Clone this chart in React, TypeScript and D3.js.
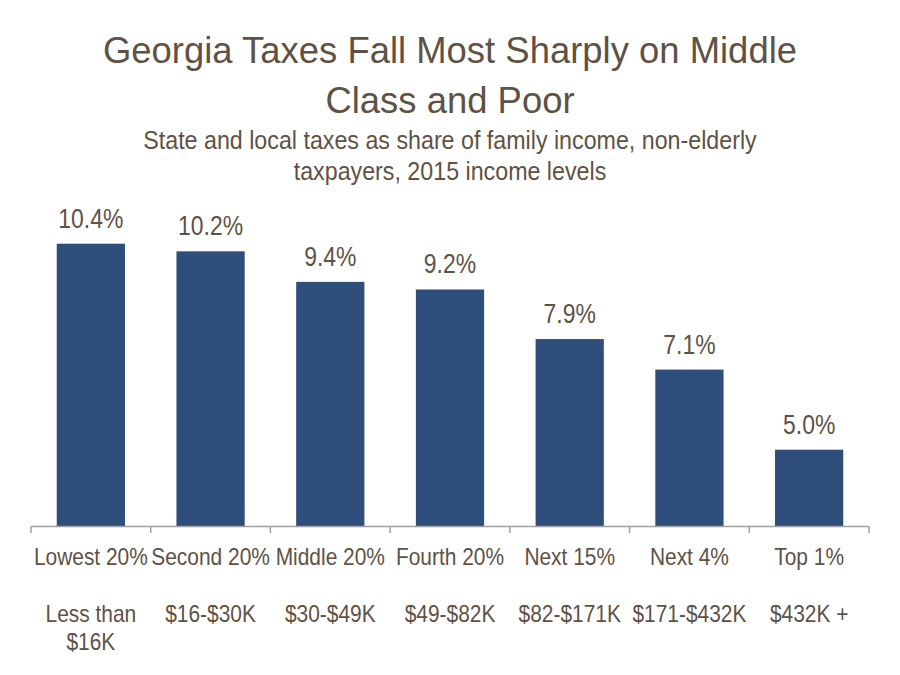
import React from "react";
import * as d3 from "d3";

const categories = ["Lowest 20%", "Second 20%", "Middle 20%", "Fourth 20%", "Next 15%", "Next 4%", "Top 1%"];
const incomeRanges = [["Less than", "$16K"], ["$16-$30K"], ["$30-$49K"], ["$49-$82K"], ["$82-$171K"], ["$171-$432K"], ["$432K +"]];
const values = [10.4, 10.2, 9.4, 9.2, 7.9, 7.1, 5.0];
const titleLines = ["Georgia Taxes Fall Most Sharply on Middle", "Class and Poor"];
const subtitleLines = ["State and local taxes as share of family income, non-elderly", "taxpayers, 2015 income levels"];

const W = 900;
const H = 675;
const FONT = "'Liberation Sans', Arial, sans-serif";
const TEXT = "#5e5245";
const BAR = "#2f4e7c";
const AXIS = "#a0a0a0";

function T({ x, y, size, sx, children }: { x: number; y: number; size: number; sx: number; children: React.ReactNode }) {
  return (
    <text transform={`translate(${x},${y}) scale(${sx},1)`} fontSize={size} textAnchor="middle" fontFamily={FONT} fill={TEXT}>
      {children}
    </text>
  );
}

export default function App() {
  const x = d3.scaleBand<string>().domain(categories).range([31, 869]).paddingInner(0.43).paddingOuter(0.215);
  const y = d3.scaleLinear().domain([3, 12]).range([526, 526 - 9 * 38.15]);
  const step = x.step();
  const x0 = 31;
  const cx = (c: string) => (x(c) as number) + x.bandwidth() / 2;
  return (
    <svg width={W} height={H} style={{ position: "absolute", left: 0, top: 0, background: "#fff" }}>
      {titleLines.map((t, i) => (
        <T key={t} x={450} y={63 + i * 50} size={37} sx={0.985}>{t}</T>
      ))}
      {subtitleLines.map((t, i) => (
        <T key={t} x={450} y={149 + i * 31} size={25} sx={0.93}>{t}</T>
      ))}
      {categories.map((c, i) => (
        <rect key={c} x={x(c)} y={y(values[i])} width={x.bandwidth()} height={y(3) - y(values[i])} fill={BAR} />
      ))}
      {categories.map((c, i) => (
        <T key={c} x={cx(c)} y={y(values[i]) - 16} size={27} sx={0.85}>{values[i].toFixed(1) + "%"}</T>
      ))}
      <line x1={x0} x2={869} y1={526.5} y2={526.5} stroke={AXIS} strokeWidth={1.5} />
      {d3.range(categories.length + 1).map((i) => (
        <line key={i} x1={x0 + i * step} x2={x0 + i * step} y1={526} y2={533} stroke={AXIS} strokeWidth={1.5} />
      ))}
      {categories.map((c) => (
        <T key={c} x={cx(c)} y={565} size={23} sx={0.91}>{c}</T>
      ))}
      {categories.map((c, i) =>
        incomeRanges[i].map((t, j) => (
          <T key={c + j} x={cx(c)} y={622 + j * 28} size={23} sx={0.91}>{t}</T>
        ))
      )}
    </svg>
  );
}
